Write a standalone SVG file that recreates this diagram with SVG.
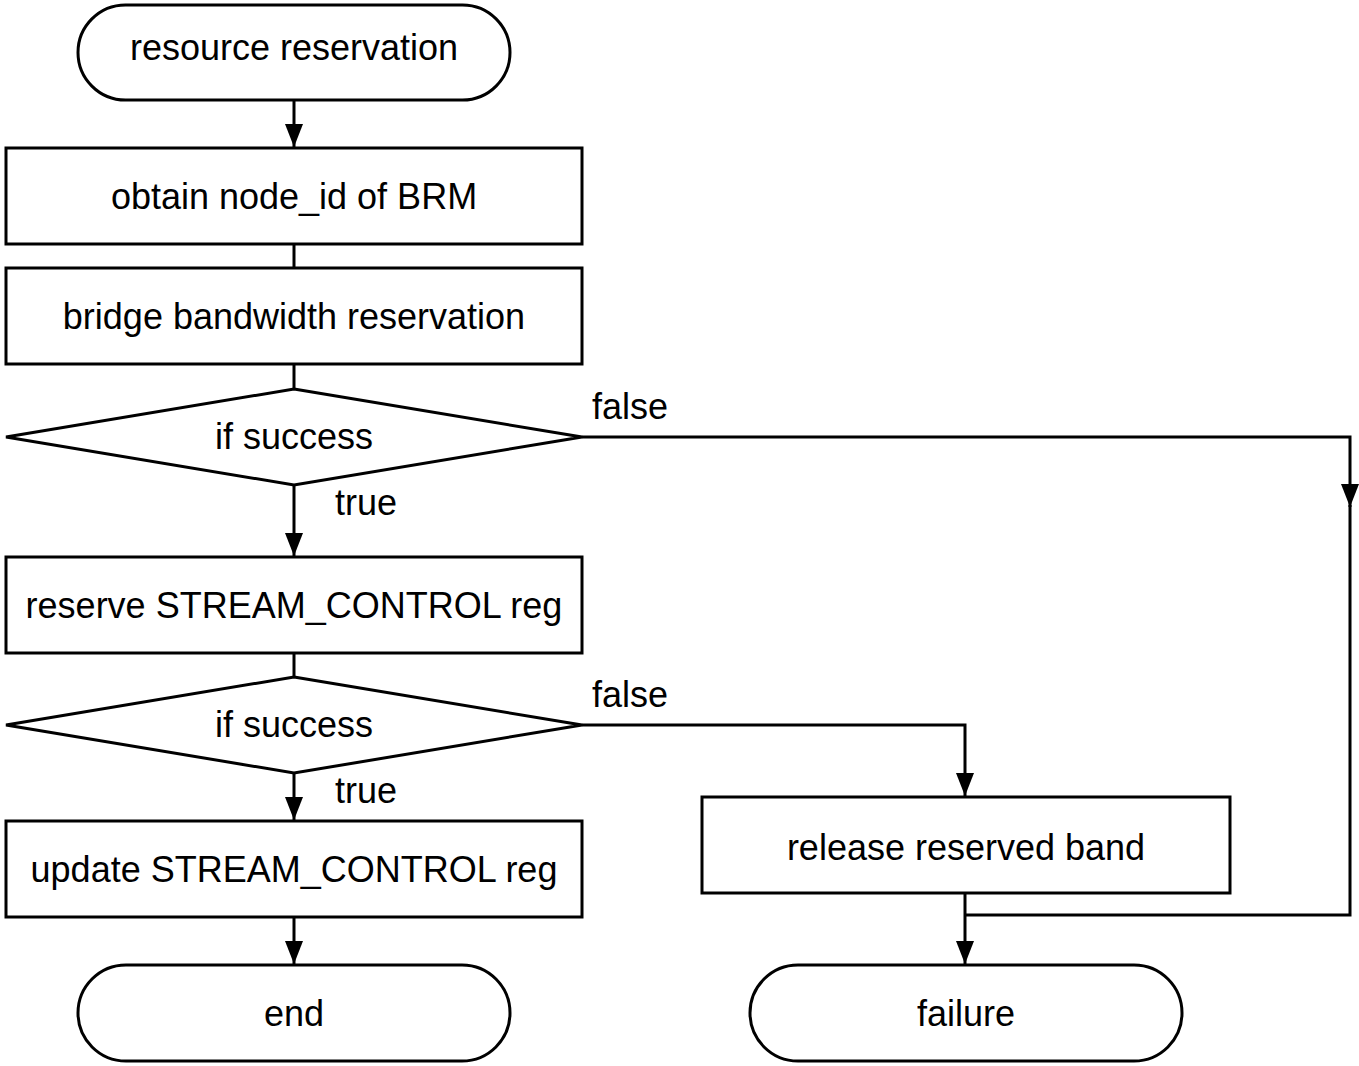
<svg xmlns="http://www.w3.org/2000/svg" width="1359" height="1066" viewBox="0 0 1359 1066">
  <style>
    .shape { fill: #ffffff; stroke: #000000; stroke-width: 3; }
    .edge { fill: none; stroke: #000000; stroke-width: 3; }
    .label { font-family: "Liberation Sans", Arial, sans-serif; font-size: 36px; fill: #000000; }
    .mid { text-anchor: middle; }
  </style>
  <defs>
    <marker id="arrow" markerUnits="userSpaceOnUse" viewBox="0 0 23 18" refX="23" refY="9" markerWidth="23" markerHeight="18" orient="auto">
      <path d="M0,0 L23,9 L0,18 Z" fill="#000000"/>
    </marker>
  </defs>
  <rect width="1359" height="1066" fill="#ffffff"/>

  <!-- connectors -->
  <g id="connectors">
    <path class="edge" d="M294,100 V147" marker-end="url(#arrow)"/>
    <path class="edge" d="M294,244 V268"/>
    <path class="edge" d="M294,364 V389"/>
    <path class="edge" d="M294,485 V556" marker-end="url(#arrow)"/>
    <path class="edge" d="M294,653 V677"/>
    <path class="edge" d="M294,773 V820" marker-end="url(#arrow)"/>
    <path class="edge" d="M294,917 V964" marker-end="url(#arrow)"/>
    <path class="edge" d="M582,437 H1350 V507" marker-end="url(#arrow)"/>
    <path class="edge" d="M1350,505 V915 H965"/>
    <path class="edge" d="M582,725 H965 V796" marker-end="url(#arrow)"/>
    <path class="edge" d="M965,893 V964" marker-end="url(#arrow)"/>
    <text class="label" x="592" y="419">false</text>
    <text class="label" x="335" y="515">true</text>
    <text class="label" x="592" y="707">false</text>
    <text class="label" x="335" y="803">true</text>
  </g>

  <g id="start">
    <rect class="shape" x="78" y="5" width="432" height="95" rx="47.5" ry="47.5"/>
    <text class="label mid" x="294" y="60">resource reservation</text>
  </g>
  <g id="obtain-node-id">
    <rect class="shape" x="6" y="148" width="576" height="96"/>
    <text class="label mid" x="294" y="209">obtain node_id of BRM</text>
  </g>
  <g id="bridge-bandwidth">
    <rect class="shape" x="6" y="268" width="576" height="96"/>
    <text class="label mid" x="294" y="329">bridge bandwidth reservation</text>
  </g>
  <g id="check-bandwidth">
    <polygon class="shape" points="294,389 582,437 294,485 6,437"/>
    <text class="label mid" x="294" y="449">if success</text>
  </g>
  <g id="reserve-stream-control">
    <rect class="shape" x="6" y="557" width="576" height="96"/>
    <text class="label mid" x="294" y="618">reserve STREAM_CONTROL reg</text>
  </g>
  <g id="check-reserve">
    <polygon class="shape" points="294,677 582,725 294,773 6,725"/>
    <text class="label mid" x="294" y="737">if success</text>
  </g>
  <g id="update-stream-control">
    <rect class="shape" x="6" y="821" width="576" height="96"/>
    <text class="label mid" x="294" y="882">update STREAM_CONTROL reg</text>
  </g>
  <g id="end">
    <rect class="shape" x="78" y="965" width="432" height="96" rx="48" ry="48"/>
    <text class="label mid" x="294" y="1026">end</text>
  </g>
  <g id="release-band">
    <rect class="shape" x="702" y="797" width="528" height="96"/>
    <text class="label mid" x="966" y="860">release reserved band</text>
  </g>
  <g id="failure">
    <rect class="shape" x="750" y="965" width="432" height="96" rx="48" ry="48"/>
    <text class="label mid" x="966" y="1026">failure</text>
  </g>
</svg>
